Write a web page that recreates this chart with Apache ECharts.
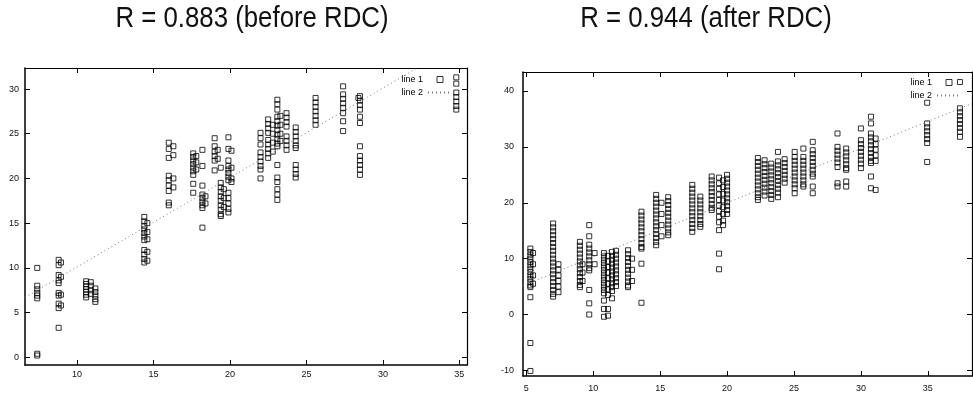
<!DOCTYPE html>
<html><head><meta charset="utf-8">
<script src="https://cdn.jsdelivr.net/npm/echarts@6/dist/echarts.min.js"></script>
<style>html,body{margin:0;padding:0;background:#fff}#c{width:973px;height:395px}</style>
</head><body><div id="c"></div>
<script>
// ---- Titles ----
const titles = ['R = 0.883 (before RDC)', 'R = 0.944 (after RDC)'];

// ---- Left plot (before RDC) ----
const leftColX = [7.4, 8.8, 8.95, 10.6, 10.9, 11.2, 14.4, 14.6, 16.0, 16.3, 17.6, 17.8, 18.2, 18.4, 19.0, 19.2, 19.4, 19.6, 19.9, 20.1, 22.0, 22.5, 22.8, 23.1, 23.3, 23.7, 24.3, 25.6, 27.4, 28.4, 28.5, 34.8];
const leftColY = [
  [10.0, 8.0, 7.6, 7.2, 6.9, 6.6, 0.4, 0.2],
  [10.9, 10.3, 9.2, 8.6, 8.3, 7.2, 6.9, 6.0, 5.5, 3.3],
  [10.6, 9.0, 7.0, 5.8],
  [8.5, 8.2, 7.9, 7.6, 7.3, 7.0, 6.7],
  [8.4, 8.0, 7.5, 7.1],
  [7.7, 7.3, 6.9, 6.5, 6.2],
  [15.7, 15.2, 14.7, 14.3, 13.9, 13.5, 13.1, 12.0, 11.5, 11.0, 10.6],
  [15.0, 14.0, 13.2, 11.8, 10.8],
  [24.0, 23.3, 22.3, 20.3, 19.8, 19.2, 18.6, 17.3, 17.0],
  [23.6, 22.6, 20.0, 19.0],
  [22.8, 22.4, 22.0, 21.6, 21.2, 20.8, 20.4, 19.4, 18.4],
  [22.5, 21.8, 21.0],
  [23.2, 21.4, 19.2, 18.2, 17.8, 17.4, 17.0, 16.7, 14.5],
  [18.0, 17.2],
  [24.5, 23.6, 23.0, 22.5, 22.0, 20.9],
  [23.2, 22.2],
  [21.2, 19.5, 19.0, 18.5, 18.0, 17.5, 17.0, 16.5, 16.0, 15.8],
  [18.8, 17.8, 16.8],
  [24.6, 23.3, 22.0, 21.4, 21.0, 20.6, 20.2, 19.8, 18.4, 17.8, 17.2, 16.6, 16.2],
  [23.1, 21.2, 20.0, 19.6],
  [25.1, 24.5, 23.8, 22.9, 22.4, 21.9, 21.4, 21.0, 20.0],
  [26.6, 26.1, 25.6, 25.1, 24.3, 23.8, 23.3, 22.8, 22.3],
  [26.0, 25.0, 24.0, 23.0],
  [28.8, 28.3, 27.7, 26.9, 26.4, 25.9, 25.4, 24.9, 24.4, 23.9, 23.6, 21.5, 20.1, 19.6, 18.8, 18.2, 17.6],
  [27.0, 26.0, 25.0, 24.2],
  [27.3, 26.8, 26.3, 25.8, 24.7, 24.2, 23.7, 23.2],
  [25.7, 25.2, 24.7, 24.2, 23.7, 23.4, 21.5, 21.0, 20.5, 20.1],
  [29.0, 28.5, 28.0, 27.5, 27.0, 26.5, 26.0],
  [30.3, 29.4, 28.9, 28.4, 27.9, 27.3, 26.4, 25.3],
  [29.0],
  [29.2, 28.7, 28.2, 27.7, 26.9, 26.2, 23.6, 22.5, 22.0, 21.5, 21.0, 20.4],
  [31.3, 30.6, 29.6, 29.1, 28.6, 28.1, 27.7]
];
const leftFitX = [6.6, 35.5];
const leftFitY = [6.7, 35.6];
const leftXTicks = [10, 15, 20, 25, 30, 35];
const leftYTicks = [0, 5, 10, 15, 20, 25, 30];

// ---- Right plot (after RDC) ----
const rightColX = [5.3, 5.5, 7.0, 7.4, 9.0, 9.2, 9.7, 10.1, 10.8, 11.1, 11.4, 11.7, 12.6, 12.9, 13.6, 14.7, 15.1, 15.6, 17.4, 18.0, 18.85, 19.4, 19.7, 20.0, 22.3, 22.8, 23.3, 23.8, 24.3, 25.05, 25.7, 26.4, 28.25, 28.9, 30.0, 30.75, 31.1, 34.95, 37.4];
const rightColY = [
  [11.8, 11.2, 10.6, 10.0, 9.4, 8.8, 8.2, 7.6, 7.0, 6.4, 5.8, 5.2, 4.9, 3.1, -5.1, -10.1],
  [11.0, 9.0, 7.0, 5.5],
  [16.3, 15.6, 14.9, 14.2, 13.5, 12.8, 12.1, 11.4, 10.7, 10.0, 9.3, 8.6, 7.9, 7.2, 6.5, 5.8, 5.1, 4.4, 3.7, 3.2],
  [9.0, 8.0, 7.0, 6.0, 5.0, 4.0],
  [13.0, 12.3, 11.6, 10.9, 10.2, 9.5, 8.8, 8.1, 7.4, 6.7, 6.0, 5.3, 4.9],
  [9.0, 7.5, 6.0],
  [16.0, 14.0, 12.5, 11.8, 11.1, 10.4, 9.7, 9.0, 8.3, 7.9, 4.4, 2.0, 0.0],
  [11.0, 9.0],
  [11.0, 10.4, 9.8, 9.2, 8.6, 8.0, 7.4, 6.8, 6.2, 5.6, 5.0, 4.4, 3.8, 2.5, 1.0, -0.4],
  [10.5, 9.5, 8.5, 7.5, 6.5, 5.5, 4.5, 3.5, 1.0, -0.2],
  [11.2, 10.5, 9.8, 9.1, 8.4, 7.7, 7.0, 6.3, 5.6, 4.9, 4.2, 2.9],
  [11.4, 10.7, 10.0, 9.3, 8.6, 7.9, 7.2, 6.5, 5.8, 5.1],
  [11.5, 10.8, 10.1, 9.4, 8.7, 8.0, 7.3, 6.6, 5.9, 5.2, 4.9],
  [10.0, 8.0, 6.0],
  [18.4, 17.7, 17.0, 16.3, 15.6, 14.9, 14.2, 13.5, 12.8, 12.1, 11.8, 9.1, 2.1],
  [21.4, 20.7, 20.0, 19.3, 18.6, 17.9, 17.2, 16.5, 15.8, 15.1, 14.4, 13.7, 13.0, 12.4],
  [20.0, 18.0, 16.0, 14.0],
  [21.0, 20.3, 19.6, 18.9, 18.2, 17.5, 16.8, 16.1, 15.4, 14.7, 14.2],
  [23.2, 22.5, 21.8, 21.1, 20.4, 19.7, 19.0, 18.3, 17.6, 16.9, 16.2, 15.5, 14.8],
  [21.1, 20.4, 19.7, 19.0, 18.3, 17.6, 16.9, 16.2, 15.7],
  [24.7, 24.0, 23.3, 22.6, 21.9, 21.2, 20.5, 19.8, 19.1, 18.7],
  [24.5, 23.5, 22.5, 21.5, 20.5, 19.5, 18.5, 17.5, 16.5, 15.1, 10.9, 8.1],
  [24.0, 22.8, 21.6, 20.4, 19.2, 18.0, 16.8, 16.0],
  [25.0, 24.3, 23.6, 22.9, 22.2, 21.5, 20.8, 20.1, 19.4, 18.7, 18.0],
  [28.0, 27.3, 26.6, 25.9, 25.2, 24.5, 23.8, 23.1, 22.4, 21.7, 21.0, 20.5],
  [27.6, 26.9, 26.2, 25.5, 24.8, 24.1, 23.4, 22.7, 22.0, 21.3],
  [27.0, 26.3, 25.6, 24.9, 24.2, 23.5, 22.8, 22.1, 21.4, 20.7],
  [29.1, 27.4, 26.7, 26.0, 25.3, 24.6, 23.9, 23.2, 22.5, 21.8, 21.0],
  [27.8, 27.1, 26.4, 25.7, 25.0, 24.3, 23.6],
  [29.1, 28.2, 27.5, 26.8, 26.1, 25.4, 24.7, 24.0, 23.3, 22.6, 21.7],
  [29.7, 28.2, 27.5, 26.8, 26.1, 25.4, 24.7, 24.0, 23.3, 22.9],
  [30.9, 29.4, 28.7, 28.0, 27.3, 26.6, 25.9, 25.2, 24.7, 22.9, 21.7],
  [32.4, 30.0, 29.3, 28.6, 27.9, 27.2, 26.4, 23.5, 22.9],
  [29.7, 29.0, 28.3, 27.6, 26.9, 26.2, 25.9, 23.8, 22.9],
  [33.3, 31.2, 30.5, 29.8, 29.1, 28.4, 27.7, 27.0, 26.2],
  [35.4, 34.2, 32.4, 31.7, 31.0, 30.3, 29.6, 28.9, 28.2, 27.5, 27.1, 24.7, 22.6],
  [31.5, 30.5, 29.5, 28.5, 27.5, 22.3],
  [37.9, 34.2, 33.5, 32.8, 32.1, 31.4, 30.7, 27.3],
  [41.6, 36.9, 36.2, 35.5, 34.8, 34.1, 33.4, 32.7, 31.8]
];
const rightFitX = [4.75, 38.3];
const rightFitY = [5.2, 37.75];
const rightXTicks = [5, 10, 15, 20, 25, 30, 35];
const rightYTicks = [-10, 0, 10, 20, 30, 40];

const FONT = 'Liberation Sans, Arial, sans-serif';
function pts(xs, ys) { const out = []; xs.forEach((x, i) => ys[i].forEach(y => out.push([x, y]))); return out; }
function fit(xs, ys) { return xs.map((x, i) => [x, ys[i]]); }

function axesFor(g, xmin, xmax, ymin, ymax, xt, yt, xMargin, yMargin) {
  const line = w => ({ show: true, onZero: false, lineStyle: { color: '#000', width: w } });
  const tick = vals => ({ show: true, inside: true, length: 5, customValues: vals, lineStyle: { color: '#000', width: 1 } });
  const lab = (vals, m) => ({ show: true, customValues: vals, margin: m, fontSize: 9, color: '#111', fontFamily: FONT });
  const x = [
    { type: 'value', gridIndex: g, position: 'bottom', min: xmin, max: xmax, axisLine: line(1.5), axisTick: tick(xt), axisLabel: lab(xt, xMargin), splitLine: { show: false } },
    { type: 'value', gridIndex: g, position: 'top', min: xmin, max: xmax, axisLine: line(1.2), axisTick: tick(xt), axisLabel: { show: false }, splitLine: { show: false } }
  ];
  const y = [
    { type: 'value', gridIndex: g, position: 'left', min: ymin, max: ymax, axisLine: line(1.5), axisTick: tick(yt), axisLabel: lab(yt, yMargin), splitLine: { show: false } },
    { type: 'value', gridIndex: g, position: 'right', min: ymin, max: ymax, axisLine: line(1.2), axisTick: tick(yt), axisLabel: { show: false }, splitLine: { show: false } }
  ];
  return { x, y };
}
const A = axesFor(0, 6.6, 35.5, -0.86, 32.35, leftXTicks, leftYTicks, 5, 6);
const B = axesFor(1, 4.75, 38.3, -11.0, 43.4, rightXTicks, rightYTicks, 8, 9);

const scatterStyle = { color: 'rgba(255,255,255,0)', borderColor: '#000', borderWidth: 1 };
const fitStyle = { color: '#777', width: 1, type: [1, 3] };
const sqIcon = 'path://M0,0L10,0L10,10L0,10Z';
function legendAt(right, top) {
  return {
    orient: 'vertical', right: right, top: top, align: 'right', padding: 0,
    itemWidth: 24, itemHeight: 6, itemGap: 4, selectedMode: false,
    textStyle: { fontSize: 9, color: '#000', fontFamily: FONT, padding: [0, 0, 0, 0] },
    data: [
      { name: 'line 1', icon: sqIcon, itemStyle: { color: 'rgba(255,255,255,0)', borderColor: '#000', borderWidth: 1 } },
      { name: 'line 2', itemStyle: { color: 'rgba(0,0,0,0)', borderWidth: 0 } }
    ]
  };
}
function titleText(t, cx) {
  return { type: 'text', x: cx, y: 34, scaleX: 0.86, silent: true,
    style: { text: t, fill: '#111', font: 'normal 30px Liberation Sans, Arial, sans-serif', textAlign: 'center', textVerticalAlign: 'bottom', verticalAlign: 'bottom' } };
}

const chart = echarts.init(document.getElementById('c'), null, { renderer: 'canvas' });
chart.setOption({
  animation: false,
  backgroundColor: '#fff',
  graphic: [titleText(titles[0], 252), titleText(titles[1], 706)],
  legend: [legendAt(520, 75), legendAt(11, 78)],
  grid: [
    { left: 25, right: 506, top: 68, bottom: 30 },
    { left: 523, right: 1, top: 72, bottom: 19 }
  ],
  xAxis: [...A.x, ...B.x],
  yAxis: [...A.y, ...B.y],
  series: [
    { name: 'line 1', type: 'scatter', xAxisIndex: 0, yAxisIndex: 0, symbol: 'rect', symbolSize: 5, itemStyle: scatterStyle, data: pts(leftColX, leftColY) },
    { name: 'line 2', type: 'line', xAxisIndex: 0, yAxisIndex: 0, showSymbol: false, symbol: 'none', itemStyle: { color: 'rgba(0,0,0,0)' }, lineStyle: fitStyle, clip: true, data: fit(leftFitX, leftFitY) },
    { name: 'line 1', type: 'scatter', xAxisIndex: 2, yAxisIndex: 2, symbol: 'rect', symbolSize: 5, itemStyle: scatterStyle, data: pts(rightColX, rightColY) },
    { name: 'line 2', type: 'line', xAxisIndex: 2, yAxisIndex: 2, showSymbol: false, symbol: 'none', itemStyle: { color: 'rgba(0,0,0,0)' }, lineStyle: fitStyle, clip: true, data: fit(rightFitX, rightFitY) }
  ]
});
</script>
</body></html>
